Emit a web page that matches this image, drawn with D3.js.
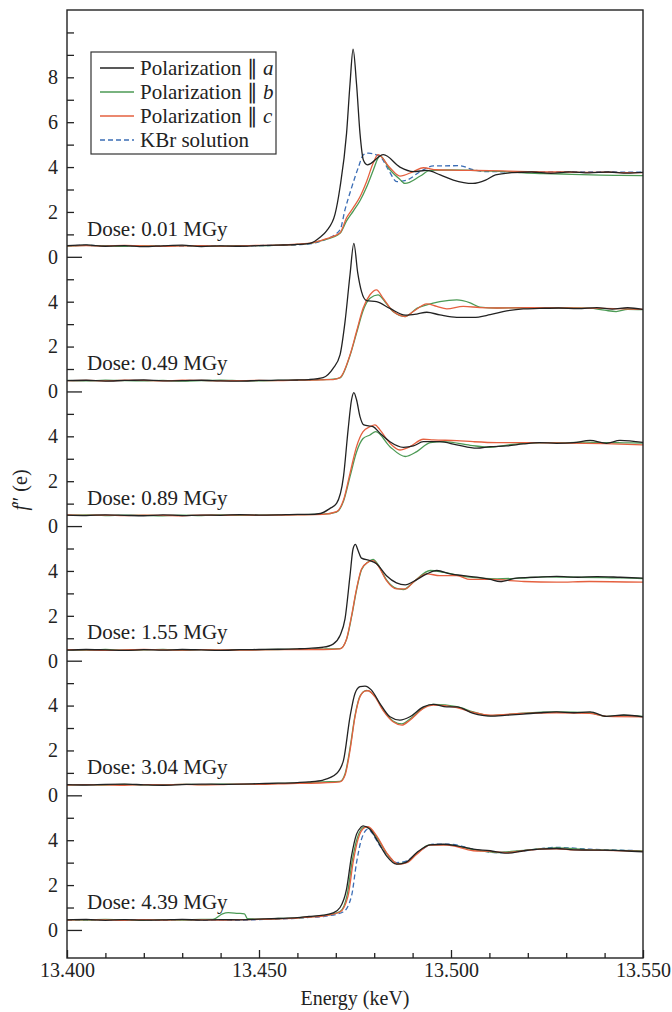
<!DOCTYPE html>
<html>
<head>
<meta charset="utf-8">
<script src="https://cdn.jsdelivr.net/npm/d3@7"></script>
<style>
body { margin: 0; background: #fff; }
svg, svg text { font-family: "Liberation Serif", "Times New Roman", serif !important; }
</style>
</head>
<body>
<div id="chart"></div>
<script>
// dose of each stacked panel, top to bottom
const doses = ["0.01", "0.49", "0.89", "1.55", "3.04", "4.39"]
const seriesNames = ["Polarization \u2225 a", "Polarization \u2225 b", "Polarization \u2225 c", "KBr solution"]
const energyTicks = [13.40, 13.45, 13.50, 13.55]

// f'' (e) vs energy (keV), one array per panel
const polA = [
  [[13.400,0.50],[13.405,0.53],[13.410,0.47],[13.415,0.50],[13.420,0.45],[13.425,0.49],[13.430,0.52],[13.435,0.46],[13.440,0.49],[13.445,0.47],[13.450,0.50],[13.455,0.52],[13.460,0.55],[13.4633,0.6],[13.4659,0.87],[13.4676,1.16],[13.4698,1.9],[13.4711,3.1],[13.4728,5.5],[13.4737,7.7],[13.4745,9.25],[13.4754,7.7],[13.4763,5.5],[13.4772,4.3],[13.4782,4.1],[13.4824,4.55],[13.4867,4.0],[13.4902,3.8],[13.4937,3.85],[13.4972,3.65],[13.5006,3.42],[13.5057,3.27],[13.509,3.42],[13.5116,3.65],[13.516,3.75],[13.521,3.78],[13.526,3.72],[13.531,3.79],[13.536,3.74],[13.541,3.78],[13.546,3.73],[13.550,3.76]],
  [[13.400,0.48],[13.405,0.50],[13.410,0.46],[13.415,0.49],[13.420,0.51],[13.425,0.47],[13.430,0.48],[13.435,0.50],[13.440,0.47],[13.445,0.46],[13.450,0.49],[13.455,0.50],[13.460,0.51],[13.463,0.53],[13.4667,0.62],[13.4693,1.03],[13.4711,1.63],[13.4724,3.1],[13.4737,5.2],[13.4747,6.6],[13.4757,5.3],[13.4767,4.45],[13.478,4.05],[13.4806,4.0],[13.4841,3.7],[13.4881,3.4],[13.4911,3.45],[13.4937,3.53],[13.4971,3.41],[13.5015,3.3],[13.5058,3.3],[13.5102,3.42],[13.5145,3.59],[13.5188,3.68],[13.523,3.7],[13.528,3.72],[13.533,3.69],[13.538,3.74],[13.542,3.67],[13.546,3.73],[13.550,3.66]],
  [[13.400,0.49],[13.405,0.47],[13.410,0.50],[13.415,0.48],[13.420,0.46],[13.425,0.50],[13.430,0.47],[13.435,0.49],[13.440,0.48],[13.445,0.51],[13.450,0.49],[13.455,0.50],[13.460,0.52],[13.463,0.52],[13.466,0.56],[13.4685,0.79],[13.4702,1.01],[13.472,2.2],[13.4732,4.29],[13.4741,5.63],[13.4747,5.95],[13.4754,5.63],[13.4763,4.88],[13.4773,4.51],[13.4797,4.43],[13.4815,4.14],[13.4841,3.76],[13.4876,3.51],[13.4902,3.57],[13.4928,3.76],[13.4971,3.76],[13.5015,3.62],[13.5067,3.47],[13.5102,3.54],[13.5145,3.57],[13.5188,3.66],[13.523,3.72],[13.5275,3.69],[13.532,3.72],[13.5362,3.82],[13.5405,3.69],[13.544,3.82],[13.550,3.73]],
  [[13.400,0.47],[13.405,0.50],[13.410,0.48],[13.415,0.46],[13.420,0.49],[13.425,0.47],[13.430,0.50],[13.435,0.48],[13.440,0.46],[13.445,0.49],[13.450,0.50],[13.455,0.51],[13.460,0.53],[13.463,0.55],[13.4667,0.6],[13.4693,0.74],[13.4711,1.12],[13.4724,1.86],[13.4737,3.79],[13.4745,4.99],[13.4751,5.18],[13.4758,4.91],[13.4767,4.57],[13.4789,4.46],[13.4806,4.32],[13.4832,3.79],[13.4858,3.47],[13.4881,3.38],[13.4902,3.53],[13.4937,3.87],[13.4963,4.02],[13.4998,3.87],[13.5032,3.79],[13.5067,3.72],[13.5102,3.62],[13.5128,3.53],[13.517,3.68],[13.522,3.72],[13.5275,3.76],[13.533,3.72],[13.538,3.75],[13.544,3.72],[13.550,3.68]],
  [[13.400,0.48],[13.405,0.46],[13.410,0.49],[13.415,0.50],[13.420,0.47],[13.425,0.45],[13.430,0.48],[13.435,0.50],[13.440,0.49],[13.445,0.50],[13.450,0.52],[13.455,0.54],[13.460,0.57],[13.463,0.6],[13.4667,0.68],[13.4702,0.97],[13.472,1.56],[13.4737,3.5],[13.475,4.54],[13.4763,4.84],[13.4776,4.87],[13.4793,4.69],[13.4815,4.09],[13.4841,3.5],[13.4867,3.35],[13.4893,3.5],[13.4928,3.94],[13.4954,4.05],[13.4989,3.94],[13.5015,3.94],[13.5058,3.65],[13.5102,3.53],[13.5145,3.57],[13.5188,3.62],[13.5231,3.68],[13.5275,3.72],[13.532,3.68],[13.5362,3.72],[13.5405,3.52],[13.545,3.58],[13.550,3.5]],
  [[13.400,0.45],[13.405,0.47],[13.410,0.43],[13.415,0.46],[13.420,0.44],[13.425,0.45],[13.430,0.47],[13.435,0.44],[13.440,0.46],[13.445,0.45],[13.450,0.48],[13.455,0.51],[13.460,0.55],[13.463,0.6],[13.4667,0.66],[13.4693,0.76],[13.4711,1.0],[13.4728,1.82],[13.4741,3.3],[13.4754,4.27],[13.4765,4.57],[13.4771,4.64],[13.4789,4.49],[13.4806,4.05],[13.4832,3.3],[13.4858,2.93],[13.4881,3.0],[13.4911,3.45],[13.4946,3.79],[13.498,3.82],[13.5015,3.75],[13.5058,3.6],[13.5102,3.53],[13.5145,3.42],[13.519,3.53],[13.5231,3.6],[13.5275,3.63],[13.532,3.57],[13.5362,3.56],[13.545,3.53],[13.550,3.48]]
]

const polB = [
  [[13.400,0.48],[13.405,0.51],[13.410,0.49],[13.415,0.47],[13.420,0.50],[13.425,0.48],[13.430,0.50],[13.435,0.49],[13.440,0.47],[13.445,0.50],[13.450,0.50],[13.455,0.52],[13.460,0.55],[13.464,0.62],[13.467,0.75],[13.4711,1.05],[13.4728,1.6],[13.4746,2.05],[13.4763,2.5],[13.478,3.1],[13.4798,3.88],[13.481,4.4],[13.4815,4.5],[13.4841,3.88],[13.4867,3.45],[13.488,3.27],[13.492,3.6],[13.4945,3.85],[13.499,3.87],[13.504,3.86],[13.509,3.83],[13.514,3.8],[13.519,3.74],[13.524,3.71],[13.529,3.69],[13.534,3.66],[13.539,3.64],[13.544,3.63],[13.550,3.62]],
  [[13.400,0.49],[13.405,0.47],[13.410,0.50],[13.415,0.48],[13.420,0.47],[13.425,0.49],[13.430,0.46],[13.435,0.48],[13.440,0.50],[13.445,0.48],[13.450,0.47],[13.455,0.49],[13.460,0.50],[13.465,0.52],[13.4693,0.55],[13.4711,0.6],[13.4737,1.6],[13.4754,2.6],[13.4771,3.6],[13.4789,4.15],[13.481,4.3],[13.4828,4.0],[13.485,3.55],[13.4881,3.34],[13.4911,3.7],[13.4937,3.86],[13.4971,4.0],[13.5015,4.08],[13.505,3.95],[13.5075,3.76],[13.512,3.72],[13.518,3.73],[13.524,3.72],[13.530,3.73],[13.536,3.71],[13.540,3.62],[13.543,3.56],[13.546,3.66],[13.550,3.65]],
  [[13.400,0.48],[13.405,0.50],[13.410,0.47],[13.415,0.49],[13.420,0.48],[13.425,0.46],[13.430,0.49],[13.435,0.47],[13.440,0.50],[13.445,0.48],[13.450,0.49],[13.455,0.50],[13.460,0.51],[13.4667,0.53],[13.4702,0.62],[13.472,1.1],[13.4737,2.2],[13.4754,3.3],[13.4771,3.9],[13.4789,4.06],[13.4804,4.21],[13.4841,3.54],[13.4881,3.1],[13.4911,3.32],[13.4946,3.72],[13.498,3.76],[13.505,3.6],[13.5102,3.51],[13.515,3.62],[13.520,3.7],[13.525,3.72],[13.530,3.71],[13.535,3.74],[13.540,3.72],[13.545,3.71],[13.550,3.7]],
  [[13.400,0.48],[13.405,0.47],[13.410,0.50],[13.415,0.47],[13.420,0.48],[13.425,0.50],[13.430,0.47],[13.435,0.49],[13.440,0.47],[13.445,0.48],[13.450,0.49],[13.455,0.50],[13.460,0.51],[13.4667,0.52],[13.4711,0.54],[13.4728,0.95],[13.4741,1.95],[13.4754,3.15],[13.4767,4.05],[13.4784,4.4],[13.4797,4.51],[13.481,4.28],[13.4832,3.6],[13.4858,3.22],[13.4876,3.17],[13.4902,3.5],[13.4946,4.02],[13.498,3.94],[13.505,3.72],[13.512,3.65],[13.518,3.68],[13.525,3.74],[13.532,3.72],[13.540,3.7],[13.545,3.69],[13.550,3.66]],
  [[13.400,0.47],[13.405,0.48],[13.410,0.46],[13.415,0.49],[13.420,0.47],[13.425,0.46],[13.430,0.49],[13.435,0.48],[13.440,0.50],[13.445,0.49],[13.450,0.51],[13.455,0.53],[13.460,0.55],[13.4667,0.6],[13.4711,0.62],[13.4724,0.95],[13.4737,2.1],[13.475,3.55],[13.4763,4.42],[13.478,4.68],[13.4802,4.42],[13.4823,3.82],[13.485,3.3],[13.4872,3.18],[13.4893,3.4],[13.4928,3.9],[13.4954,4.05],[13.5015,3.95],[13.5058,3.72],[13.5102,3.55],[13.5145,3.6],[13.5188,3.66],[13.5275,3.72],[13.5362,3.68],[13.5405,3.52],[13.545,3.56],[13.550,3.52]],
  [[13.400,0.46],[13.405,0.44],[13.410,0.47],[13.415,0.45],[13.420,0.43],[13.425,0.46],[13.430,0.44],[13.435,0.47],[13.438,0.47],[13.4405,0.72],[13.442,0.77],[13.4445,0.74],[13.4462,0.72],[13.447,0.5],[13.450,0.48],[13.455,0.51],[13.460,0.54],[13.463,0.58],[13.4667,0.64],[13.4711,0.82],[13.473,1.6],[13.4743,3.1],[13.4756,4.1],[13.4774,4.58],[13.4786,4.55],[13.4806,4.15],[13.4835,3.35],[13.486,2.95],[13.4885,3.02],[13.4911,3.42],[13.4946,3.8],[13.499,3.8],[13.5058,3.58],[13.512,3.45],[13.519,3.55],[13.5275,3.66],[13.536,3.58],[13.543,3.55],[13.550,3.52]]
]

const polC = [
  [[13.400,0.49],[13.405,0.50],[13.410,0.48],[13.415,0.51],[13.420,0.49],[13.425,0.47],[13.430,0.49],[13.435,0.50],[13.440,0.48],[13.445,0.49],[13.450,0.51],[13.455,0.52],[13.460,0.56],[13.464,0.63],[13.467,0.78],[13.4711,1.07],[13.4728,1.74],[13.4746,2.2],[13.4763,2.68],[13.478,3.35],[13.4798,4.2],[13.481,4.55],[13.4841,3.97],[13.4867,3.6],[13.4902,3.8],[13.4928,3.97],[13.4962,3.88],[13.500,3.86],[13.505,3.85],[13.510,3.84],[13.515,3.82],[13.520,3.8],[13.525,3.78],[13.530,3.78],[13.535,3.76],[13.540,3.77],[13.545,3.75],[13.550,3.75]],
  [[13.400,0.48],[13.405,0.49],[13.410,0.47],[13.415,0.50],[13.420,0.49],[13.425,0.47],[13.430,0.50],[13.435,0.49],[13.440,0.47],[13.445,0.48],[13.450,0.49],[13.455,0.48],[13.460,0.50],[13.4667,0.52],[13.4693,0.53],[13.4711,0.62],[13.4737,1.63],[13.4754,2.67],[13.4771,3.71],[13.4789,4.31],[13.4806,4.53],[13.4823,4.16],[13.485,3.56],[13.4881,3.34],[13.4902,3.56],[13.4937,3.9],[13.4963,3.79],[13.4989,3.68],[13.5032,3.79],[13.5075,3.74],[13.512,3.72],[13.520,3.73],[13.530,3.72],[13.540,3.7],[13.550,3.66]],
  [[13.400,0.50],[13.405,0.48],[13.410,0.49],[13.415,0.47],[13.420,0.49],[13.425,0.48],[13.430,0.46],[13.435,0.49],[13.440,0.48],[13.445,0.50],[13.450,0.48],[13.455,0.49],[13.460,0.50],[13.4667,0.52],[13.4702,0.64],[13.472,1.16],[13.4737,2.35],[13.4754,3.54],[13.4771,4.21],[13.4789,4.43],[13.4802,4.51],[13.4815,4.29],[13.4841,3.69],[13.4867,3.39],[13.4893,3.54],[13.4928,3.87],[13.4954,3.84],[13.5015,3.81],[13.5058,3.76],[13.512,3.72],[13.520,3.72],[13.530,3.7],[13.540,3.67],[13.550,3.62]],
  [[13.400,0.49],[13.405,0.48],[13.410,0.46],[13.415,0.48],[13.420,0.50],[13.425,0.48],[13.430,0.47],[13.435,0.49],[13.440,0.48],[13.445,0.47],[13.450,0.48],[13.455,0.49],[13.460,0.50],[13.4667,0.5],[13.4711,0.53],[13.4728,0.97],[13.4741,2.0],[13.4754,3.2],[13.4767,4.09],[13.4784,4.39],[13.4797,4.46],[13.481,4.24],[13.4832,3.57],[13.4858,3.2],[13.4881,3.2],[13.4902,3.5],[13.4937,3.87],[13.4971,3.79],[13.5015,3.79],[13.505,3.62],[13.5102,3.62],[13.519,3.53],[13.5275,3.5],[13.536,3.53],[13.550,3.5]],
  [[13.400,0.46],[13.405,0.48],[13.410,0.47],[13.415,0.45],[13.420,0.48],[13.425,0.47],[13.430,0.49],[13.435,0.47],[13.440,0.48],[13.445,0.50],[13.450,0.49],[13.455,0.51],[13.460,0.53],[13.4667,0.56],[13.4711,0.6],[13.4724,0.89],[13.4737,2.0],[13.475,3.5],[13.4763,4.39],[13.4776,4.64],[13.4784,4.66],[13.4802,4.39],[13.4823,3.79],[13.485,3.27],[13.4872,3.13],[13.4893,3.35],[13.4928,3.87],[13.4954,4.02],[13.5015,3.91],[13.5058,3.7],[13.5102,3.57],[13.5188,3.65],[13.5275,3.68],[13.5362,3.65],[13.5405,3.52],[13.550,3.5]],
  [[13.400,0.44],[13.405,0.46],[13.410,0.45],[13.415,0.43],[13.420,0.46],[13.425,0.44],[13.430,0.46],[13.435,0.45],[13.440,0.44],[13.445,0.46],[13.450,0.47],[13.455,0.50],[13.460,0.53],[13.463,0.57],[13.4667,0.62],[13.4711,0.8],[13.4732,1.52],[13.4745,3.0],[13.4758,4.05],[13.4776,4.57],[13.4784,4.6],[13.4806,4.2],[13.4832,3.45],[13.4863,2.93],[13.4885,3.0],[13.4911,3.38],[13.4946,3.78],[13.4989,3.78],[13.5058,3.53],[13.5102,3.5],[13.5145,3.45],[13.519,3.53],[13.5231,3.6],[13.5275,3.62],[13.532,3.57],[13.540,3.55],[13.550,3.5]]
]

// KBr reference only measured for the first and last panel
const kbr = [
  [[13.400,0.49],[13.405,0.51],[13.410,0.48],[13.415,0.49],[13.420,0.47],[13.425,0.50],[13.430,0.48],[13.435,0.50],[13.440,0.48],[13.445,0.47],[13.450,0.50],[13.455,0.51],[13.460,0.54],[13.464,0.6],[13.467,0.75],[13.4711,1.2],[13.4724,2.1],[13.4742,3.13],[13.4759,4.0],[13.4772,4.55],[13.4785,4.62],[13.4815,4.47],[13.4837,3.88],[13.4859,3.35],[13.4885,3.42],[13.492,3.8],[13.4954,4.05],[13.5023,4.06],[13.5057,3.88],[13.509,3.8],[13.515,3.79],[13.520,3.8],[13.525,3.78],[13.530,3.8],[13.535,3.78],[13.540,3.79],[13.545,3.77],[13.550,3.78]],
  null, null, null, null,
  [[13.400,0.45],[13.405,0.43],[13.410,0.46],[13.415,0.44],[13.420,0.45],[13.425,0.43],[13.430,0.46],[13.435,0.44],[13.440,0.45],[13.445,0.44],[13.450,0.46],[13.455,0.49],[13.460,0.52],[13.463,0.56],[13.4667,0.6],[13.4719,0.8],[13.4741,1.52],[13.4754,3.0],[13.4767,4.05],[13.4784,4.5],[13.4793,4.35],[13.4815,3.75],[13.4841,3.23],[13.4858,3.0],[13.4885,3.08],[13.4919,3.53],[13.4954,3.82],[13.4998,3.82],[13.5058,3.6],[13.5119,3.45],[13.519,3.53],[13.5275,3.68],[13.5362,3.6],[13.550,3.53]]
]

const colors = ["#222222", "#4c9a55", "#e5603f", "#3b6db5"]

const width = 672
const height = 1012
const panelStep = 6   // vertical offset between panels, in f'' units

const svg = d3.select("#chart")
  .append("svg")
  .attr("width", width)
  .attr("height", height)

const x = d3.scaleLinear()
  .domain([13.40, 13.55])
  .range([67, 643])

// one shared scale, each panel is shifted down by panelStep
const y = d3.scaleLinear()
  .domain([-(panelStep * 5) - 1.25, 11])
  .range([958, 10])

svg.append("clipPath").attr("id", "clip")
  .append("rect")
  .attr("x", 67).attr("y", 10)
  .attr("width", 576).attr("height", 948)

const plot = svg.append("g").attr("clip-path", "url(#clip)")

doses.forEach(function (dose, k) {
  const line = d3.line()
    .x(d => x(d[0]))
    .y(d => y(d[1] - panelStep * k))
    .curve(d3.curveMonotoneX)

  const curves = [
    { data: kbr[k], color: colors[3], dash: "5,3" },
    { data: polB[k], color: colors[1], dash: null },
    { data: polC[k], color: colors[2], dash: null },
    { data: polA[k], color: colors[0], dash: null }
  ]
  curves.forEach(function (c) {
    if (!c.data) return
    plot.append("path")
      .datum(c.data)
      .attr("d", line)
      .attr("fill", "none")
      .attr("stroke", c.color)
      .attr("stroke-width", 1.3)
      .attr("stroke-dasharray", c.dash)
  })

  svg.append("text")
    .attr("x", 87)
    .attr("y", y(0.95 - panelStep * k))
    .attr("font-size", 21)
    .attr("fill", "#222")
    .text("Dose: " + dose + " MGy")
})

// y ticks: 0..5 in every panel, the top panel runs up to 10
const yTicks = []
doses.forEach(function (dose, k) {
  const top = k === 0 ? 10 : 5
  for (let v = 0; v <= top; v++) yTicks.push({ g: v - panelStep * k, v: v })
})
const yLabel = new Map(yTicks.map(t => [t.g, t.v]))

const yAxis = svg.append("g")
  .attr("transform", "translate(67,0)")
  .call(d3.axisLeft(y)
    .tickValues(yTicks.map(t => t.g))
    .tickSize(-7)
    .tickPadding(9)
    .tickFormat(function (g) {
      const v = yLabel.get(g)
      return (v % 2 === 0 && v <= 8) ? v : ""
    }))
yAxis.select(".domain").remove()
yAxis.selectAll(".tick line")
  .attr("stroke", "#222")
  .attr("stroke-width", 1.3)
  .filter(g => yLabel.get(g) === 0)
  .attr("x2", 15)
yAxis.selectAll(".tick text")
  .attr("font-size", 20)
  .attr("fill", "#222")

// x ticks, major every 0.05, minor every 0.01
const xMinor = d3.range(1, 15).filter(i => i % 5 !== 0).map(i => 13.40 + i * 0.01)

const xAxis = svg.append("g")
  .attr("transform", "translate(0,958)")
  .call(d3.axisBottom(x)
    .tickValues(energyTicks)
    .tickSize(-8)
    .tickPadding(5)
    .tickFormat(d3.format(".3f")))
xAxis.select(".domain").remove()
xAxis.selectAll(".tick line").attr("stroke", "#222").attr("stroke-width", 1.3)
xAxis.selectAll(".tick text")
  .attr("font-size", 20)
  .attr("fill", "#222")

const xAxisMinor = svg.append("g")
  .attr("transform", "translate(0,958)")
  .call(d3.axisBottom(x)
    .tickValues(xMinor)
    .tickSize(-5)
    .tickFormat(""))
xAxisMinor.select(".domain").remove()
xAxisMinor.selectAll(".tick line").attr("stroke", "#222").attr("stroke-width", 1.3)

// frame
svg.append("rect")
  .attr("x", 67).attr("y", 10)
  .attr("width", 576).attr("height", 948)
  .attr("fill", "none")
  .attr("stroke", "#222")
  .attr("stroke-width", 1.4)

svg.append("text")
  .attr("x", 355)
  .attr("y", 1005)
  .attr("text-anchor", "middle")
  .attr("font-size", 20)
  .attr("fill", "#222")
  .text("Energy (keV)")

const ylab = svg.append("text")
  .attr("transform", "translate(27,490) rotate(-90)")
  .attr("text-anchor", "middle")
  .attr("font-size", 20)
  .attr("fill", "#222")
ylab.append("tspan").attr("font-style", "italic").text("f")
ylab.append("tspan").text("\u2033 (e)")

// legend
const legend = svg.append("g")
legend.append("rect")
  .attr("x", 91).attr("y", 52)
  .attr("width", 185).attr("height", 102)
  .attr("fill", "#fff")
  .attr("stroke", "#333")
  .attr("stroke-width", 1.2)

seriesNames.forEach(function (name, i) {
  const ly = 68 + i * 24
  legend.append("line")
    .attr("x1", 100).attr("x2", 134)
    .attr("y1", ly).attr("y2", ly)
    .attr("stroke", colors[i])
    .attr("stroke-width", 1.3)
    .attr("stroke-dasharray", i === 3 ? "5,3" : null)
  const t = legend.append("text")
    .attr("x", 140)
    .attr("y", ly + 7)
    .attr("font-size", 21)
    .attr("fill", "#222")
  if (i < 3) {
    t.append("tspan").text(name.slice(0, -1))
    t.append("tspan").attr("font-style", "italic").text(name.slice(-1))
  } else {
    t.text(name)
  }
})
</script>
</body>
</html>
